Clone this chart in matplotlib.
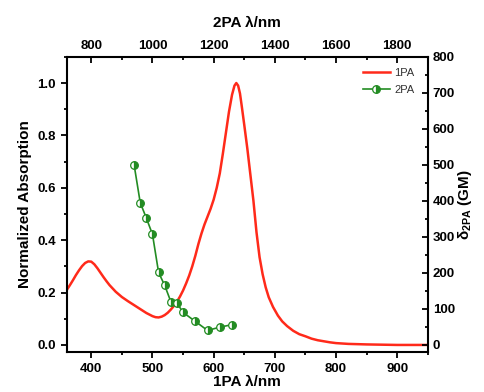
import matplotlib
matplotlib.use("Agg")
import matplotlib.pyplot as plt
from matplotlib.ticker import MultipleLocator

plt.rcParams['font.family'] = ['Liberation Sans', 'DejaVu Sans']
plt.rcParams['mathtext.fontset'] = 'custom'
plt.rcParams['mathtext.bf'] = 'Liberation Sans:bold'
plt.rcParams['mathtext.rm'] = 'Liberation Sans'

# 1PA normalized absorption
wl_1pa = [360, 365, 370, 375, 380, 385, 390, 395, 400, 405, 410, 415, 420, 425, 430,
          440, 450, 460, 470, 480, 490, 500, 505, 510, 515, 520, 525, 530, 535, 540,
          545, 550, 555, 560, 565, 570, 575, 580, 585, 590, 595, 600, 605, 610, 615,
          620, 625, 630, 634, 637, 640, 643, 646, 650, 655, 660, 665, 670, 675, 680,
          685, 690, 697, 705, 712, 720, 730, 740, 750, 760, 770, 780, 790, 800, 820,
          850, 900, 950]
abs_1pa = [0.21, 0.228, 0.247, 0.267, 0.285, 0.301, 0.313, 0.319, 0.318, 0.308, 0.293,
           0.276, 0.259, 0.243, 0.228, 0.203, 0.183, 0.167, 0.152, 0.137, 0.122, 0.110,
           0.106, 0.105, 0.108, 0.114, 0.123, 0.135, 0.149, 0.165, 0.185, 0.208, 0.235,
           0.265, 0.30, 0.34, 0.385, 0.425, 0.46, 0.49, 0.52, 0.555, 0.60, 0.655, 0.73,
           0.81, 0.89, 0.955, 0.99, 1.0, 0.99, 0.96, 0.91, 0.84, 0.75, 0.65, 0.55, 0.43,
           0.335, 0.27, 0.22, 0.182, 0.145, 0.112, 0.09, 0.072, 0.054, 0.041, 0.033,
           0.024, 0.018, 0.014, 0.010, 0.007, 0.004, 0.002, 0.0, 0.0]

# 2PA cross section
wl_2pa = [940, 960, 980, 1000, 1020, 1040, 1060, 1080, 1100, 1140, 1180, 1220, 1260]
gm_2pa = [500, 395, 352, 307, 201, 165, 120, 116, 90, 65, 40, 49, 56]

red = '#ff2a1a'
green = '#238c23'

fig = plt.figure(figsize=(4.84, 3.92), dpi=100)
pos = [0.138, 0.102, 0.746, 0.753]
ax = fig.add_axes(pos)
ax2 = fig.add_axes(pos, frameon=False)

l1, = ax.plot(wl_1pa, abs_1pa, color=red, lw=1.8, label='1PA')
ax.set_xlim(360, 950)
ax.set_ylim(-0.027, 1.1)
ax.xaxis.set_major_locator(MultipleLocator(100))
ax.xaxis.set_minor_locator(MultipleLocator(50))
ax.yaxis.set_major_locator(MultipleLocator(0.2))
ax.yaxis.set_minor_locator(MultipleLocator(0.1))
ax.yaxis.set_major_formatter(plt.FormatStrFormatter('%.1f'))
ax.tick_params(which='both', direction='out', width=1.3, labelsize=9.5)
ax.tick_params(which='major', length=4.5)
ax.tick_params(which='minor', length=2.5)
for lab in ax.get_xticklabels() + ax.get_yticklabels():
    lab.set_fontweight('bold')
for s in ax.spines.values():
    s.set_linewidth(1.5)
ax.set_xlabel('1PA λ/nm', fontsize=11, fontweight='bold', labelpad=0)
ax.set_ylabel('Normalized Absorption', fontsize=11, fontweight='bold', labelpad=4)

l2, = ax2.plot(wl_2pa, gm_2pa, color=green, lw=1.2, marker='o', markersize=5.5,
               fillstyle='right', markerfacecolor=green, markerfacecoloralt='white',
               markeredgecolor=green, markeredgewidth=0.9, label='2PA')
ax2.set_xlim(720, 1900)
ax2.set_ylim(-20, 800)
ax2.xaxis.tick_top()
ax2.xaxis.set_label_position('top')
ax2.yaxis.tick_right()
ax2.yaxis.set_label_position('right')
ax2.xaxis.set_major_locator(MultipleLocator(200))
ax2.xaxis.set_minor_locator(MultipleLocator(100))
ax2.yaxis.set_major_locator(MultipleLocator(100))
ax2.yaxis.set_minor_locator(MultipleLocator(50))
ax2.tick_params(which='both', direction='in', width=1.3, labelsize=9.5)
ax2.tick_params(which='major', length=4.5)
ax2.tick_params(which='minor', length=2.5)
for lab in ax2.get_xticklabels() + ax2.get_yticklabels():
    lab.set_fontweight('bold')
ax2.set_xlabel('2PA λ/nm', fontsize=11, fontweight='bold', labelpad=9)
ax2.set_ylabel(r'δ$_{\mathbf{2PA}}$ (GM)', fontsize=11, fontweight='bold', labelpad=1)

leg = ax2.legend(handles=[l1, l2], loc='upper right', bbox_to_anchor=(0.99, 0.995),
                 frameon=False, fontsize=8, handlelength=2.4, labelspacing=0.6,
                 handletextpad=0.4)
for t in leg.get_texts():
    t.set_color('#333333')

fig.savefig('out.png', dpi=100)
